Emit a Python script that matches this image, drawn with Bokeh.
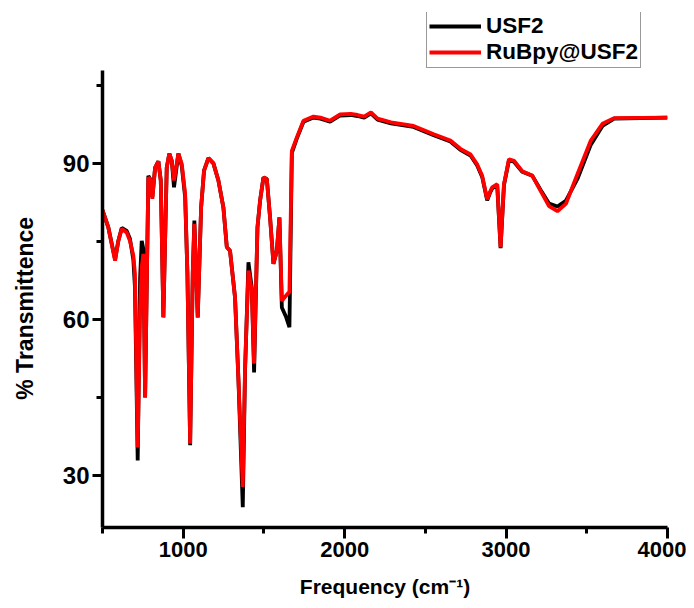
from bokeh.plotting import figure
from bokeh.models import FixedTicker, Legend, LegendItem, ColumnDataSource
from bokeh.embed import file_html
from bokeh.resources import INLINE

# ---- data ----
wavenumber = [500, 536, 578, 598, 619, 650, 670, 691, 701, 718, 733, 743, 753, 764, 784, 795,
              809, 826, 846, 861, 877, 898, 914, 929, 943, 970, 991, 1012, 1026, 1043, 1059,
              1069, 1090, 1111, 1129, 1156, 1187, 1218, 1249, 1270, 1290, 1321, 1342, 1369,
              1383, 1404, 1425, 1439, 1460, 1476, 1497, 1518, 1538, 1559, 1580, 1596, 1611,
              1638, 1658, 1673, 1704, 1745, 1807, 1850, 1910, 1972, 2038, 2080, 2121, 2163,
              2204, 2287, 2427, 2552, 2655, 2717, 2780, 2821, 2852, 2883, 2900, 2914, 2945,
              2966, 2987, 3018, 3049, 3100, 3163, 3214, 3266, 3318, 3370, 3442, 3525, 3597,
              3669, 4000]

usf2 = [81.0, 77.7, 71.5, 75.1, 77.6, 77.0, 75.5, 71.5, 66.2, 32.9, 68.0, 75.1, 73.5, 45.0,
        87.6, 87.0, 83.5, 89.2, 90.4, 86.7, 60.4, 89.2, 91.9, 90.5, 85.4, 91.9, 89.5, 83.5,
        68.8, 35.8, 68.8, 79.0, 60.4, 81.6, 88.6, 91.0, 90.0, 86.7, 81.5, 73.9, 73.2, 64.2,
        48.5, 23.9, 50.0, 71.0, 66.0, 49.8, 77.7, 82.8, 87.3, 87.0, 79.6, 70.7, 73.2, 79.6,
        62.3, 60.4, 58.5, 92.0, 94.8, 98.0, 98.8, 98.6, 98.0, 99.2, 99.3, 99.1, 98.8, 99.6,
        98.4, 97.7, 97.0, 95.4, 94.2, 92.6, 91.5, 89.6, 87.4, 82.9, 84.3, 85.2, 85.8, 73.7,
        85.8, 90.6, 90.3, 88.4, 87.6, 84.9, 82.3, 81.7, 82.8, 87.0, 93.6, 97.2, 98.6, 98.8]

rubpy_usf2 = [81.0, 77.7, 71.3, 75.1, 77.4, 76.7, 75.1, 72.3, 68.8, 35.4, 62.0, 70.0, 72.6, 45.0,
              87.3, 87.0, 83.2, 89.2, 90.4, 86.7, 60.4, 89.2, 91.9, 90.5, 86.7, 91.9, 89.9, 84.1,
              68.8, 36.1, 68.8, 78.4, 60.4, 81.6, 88.6, 91.0, 90.0, 86.7, 81.5, 73.9, 73.2, 64.2,
              48.5, 27.8, 50.8, 69.4, 65.5, 51.5, 77.7, 82.8, 87.3, 87.0, 79.6, 70.7, 73.2, 79.6,
              63.6, 64.6, 65.3, 92.4, 95.0, 98.2, 99.0, 98.8, 98.2, 99.4, 99.5, 99.3, 99.0, 99.8,
              98.6, 97.9, 97.2, 95.6, 94.4, 92.8, 91.7, 89.8, 87.6, 83.1, 84.5, 85.4, 86.0, 73.9,
              86.0, 90.8, 90.5, 88.5, 87.6, 84.7, 81.8, 80.8, 82.2, 87.9, 94.4, 97.6, 98.7, 98.8]

series_names = ["USF2", "RuBpy@USF2"]
series_colors = ["black", "red"]

y_major = [30, 60, 90]
y_minor = [15, 45, 75, 105]
x_major = [1000, 2000, 3000, 4000]
x_minor = [500, 1500, 2500, 3500]

y_title = "% Transmittence"
x_title = "Frequency (cm\u207b\u00b9)"

FONT = "Liberation Sans"

p = figure(width=686, height=607, x_range=(500, 4000), y_range=(20, 119),
           output_backend="svg", toolbar_location=None,
           min_border_left=102, min_border_right=19, min_border_top=12, min_border_bottom=80,
           background_fill_color="white", border_fill_color="white")
p.outline_line_color = None
p.xgrid.visible = False
p.ygrid.visible = False

src = ColumnDataSource(dict(x=wavenumber, usf2=usf2, rubpy=rubpy_usf2))
r1 = p.line("x", "usf2", source=src, line_color=series_colors[0], line_width=3.8)
r2 = p.line("x", "rubpy", source=src, line_color=series_colors[1], line_width=3.8)

for ax in (p.xaxis[0], p.yaxis[0]):
    ax.axis_line_width = 3.5
    ax.axis_line_color = "black"
    ax.major_tick_line_width = 3
    ax.minor_tick_line_width = 3
    ax.major_tick_in = 0
    ax.minor_tick_in = 0
    ax.major_label_text_font = FONT
    ax.major_label_text_font_style = "bold"
    ax.major_label_text_color = "black"
    ax.axis_label_text_font = FONT
    ax.axis_label_text_font_style = "bold"
    ax.axis_label_text_color = "black"

p.yaxis[0].ticker = FixedTicker(ticks=y_major, minor_ticks=y_minor)
p.yaxis[0].bounds = (20, 107.8)
p.yaxis[0].major_tick_out = 10
p.yaxis[0].minor_tick_out = 6
p.yaxis[0].major_label_standoff = 3
p.yaxis[0].major_label_text_font_size = "24px"
# trailing no-break spaces keep the title centred on the drawn axis, not the whole frame
p.yaxis[0].axis_label = y_title + "\u00a0" * 12
p.yaxis[0].axis_label_text_font_size = "23px"
p.yaxis[0].axis_label_standoff = 22

p.xaxis[0].ticker = FixedTicker(ticks=x_major, minor_ticks=x_minor)
p.xaxis[0].major_tick_out = 11
p.xaxis[0].minor_tick_out = 6
p.xaxis[0].major_label_standoff = 3
p.xaxis[0].major_label_text_font_size = "22px"
p.xaxis[0].axis_label = x_title
p.xaxis[0].axis_label_text_font_size = "21px"
p.xaxis[0].axis_label_standoff = 15

legend = Legend(items=[LegendItem(label=series_names[0], renderers=[r1]),
                       LegendItem(label=series_names[1], renderers=[r2])],
                location=(324, 459), orientation="vertical")
legend.label_text_font = FONT
legend.label_text_font_style = "bold"
legend.label_text_font_size = "22.5px"
legend.label_text_color = "black"
legend.glyph_width = 52
legend.glyph_height = 26
legend.label_height = 26
legend.label_standoff = 5
legend.padding = 2
legend.spacing = 0
legend.margin = 0
legend.border_line_color = "#333333"
legend.border_line_width = 1
legend.background_fill_color = "white"
legend.background_fill_alpha = 1
p.add_layout(legend, "center")

open("out.html", "w").write(file_html(p, INLINE))
